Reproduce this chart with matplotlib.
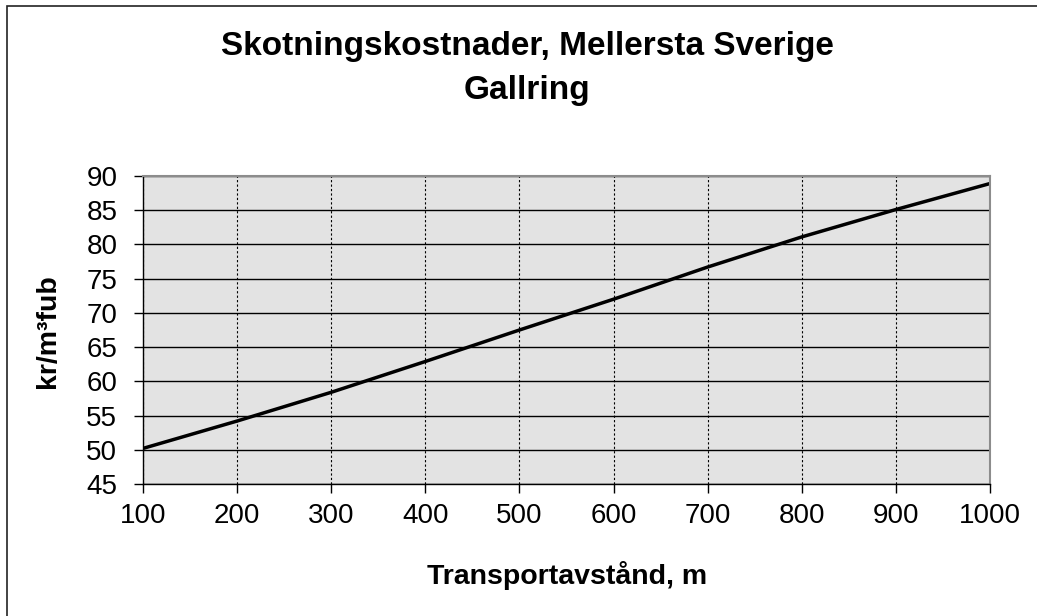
import numpy as np
import matplotlib
matplotlib.use("Agg")
from matplotlib import pyplot as plt
from matplotlib.patches import Rectangle

plt.rcParams['font.family'] = ['Liberation Sans', 'DejaVu Sans']

# transport distance (m) and forwarding cost (kr/m3fub)
distance = [100, 200, 300, 400, 500, 600, 700, 800, 900, 1000]
cost = [50.2, 54.2, 58.4, 62.9, 67.5, 72.0, 76.7, 81.1, 85.1, 88.9]
xticks = [100, 200, 300, 400, 500, 600, 700, 800, 900, 1000]
yticks = [45, 50, 55, 60, 65, 70, 75, 80, 85, 90]

W, H = 1037, 616
fig = plt.figure(figsize=(W/100, H/100), dpi=100)
ax = fig.add_axes([143/W, 1 - 484/H, (990-143)/W, (484-176)/H])

ax.set_facecolor("#e3e3e3")
ax.plot(distance, cost, color="black", lw=2.5, solid_capstyle="butt")

ax.set_xlim(100, 1000)
ax.set_ylim(45, 90)
ax.set_xticks(xticks)
ax.set_yticks(yticks)
ax.tick_params(labelsize=20, length=6.5, width=1, color="black")
ax.tick_params(axis="y", pad=12)
ax.tick_params(axis="x", pad=7)

ax.yaxis.grid(True, color="black", lw=1, linestyle="-")
ax.xaxis.grid(True, color="black", lw=0.8, linestyle=(0, (2, 2)))
ax.set_axisbelow(True)

for side in ("top", "right"):
    ax.spines[side].set_color("#8c8c8c")
    ax.spines[side].set_linewidth(1.5)
for side in ("left", "bottom"):
    ax.spines[side].set_color("black")
    ax.spines[side].set_linewidth(1)

fig.text(567/W, 1 - 576/H, "Transportavstånd, m", ha="center", va="center",
         fontsize=20.5, fontweight="bold")
fig.text(48/W, 1 - 331/H, "kr/m³fub", ha="center", va="center",
         rotation=90, fontsize=20.5, fontweight="bold")

fig.text(527/W, 1 - 46/H, "Skotningskostnader, Mellersta Sverige",
         ha="center", va="center", fontsize=24, fontweight="bold")
fig.text(527/W, 1 - 90/H, "Gallring",
         ha="center", va="center", fontsize=24, fontweight="bold")

# chart border, only left and top edges visible in the crop
fig.patches.append(Rectangle((7/W, -0.05), 1.2, 1.05 - 6/H, transform=fig.transFigure,
                             fill=False, edgecolor="#222222", lw=1.2))

fig.savefig("out.png", dpi=100)
